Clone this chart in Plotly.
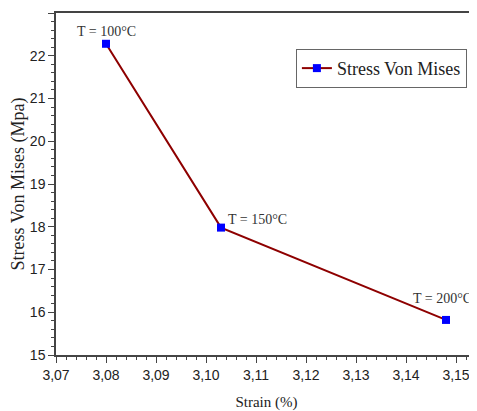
import plotly.graph_objects as go

strain = [3.080, 3.103, 3.148]
stress = [22.28, 17.98, 15.82]
labels = ["T = 100°C", "T = 150°C", "T = 200°C"]
series_name = "Stress Von Mises"

fig = go.Figure()
fig.add_trace(go.Scatter(
    x=strain, y=stress, mode="lines+markers", name=series_name,
    line=dict(color="#8E0000", width=2),
    marker=dict(symbol="square", size=8, color="#0000FF", line=dict(width=0)),
))

shifts = [(0, 12, "center"), (5, 8, "left"), (28, 21, "right")]
for xv, yv, t, (xs, ys, xa) in zip(strain, stress, labels, shifts):
    fig.add_annotation(x=xv, y=yv, text=t, showarrow=False, xanchor=xa,
                       yanchor="middle", xshift=xs, yshift=ys,
                       font=dict(family="Liberation Serif", size=14, color="#333333"))

axis_common = dict(showline=True, linecolor="#444444", linewidth=1.5,
                   ticks="outside", ticklen=6, tickwidth=1.2, tickcolor="#444444",
                   showgrid=False, zeroline=False, automargin=False,
                   tickfont=dict(family="Liberation Sans", size=14, color="#222222"),
                   minor=dict(ticks="outside", ticklen=3, tickwidth=1, tickcolor="#444444"))

fig.update_xaxes(range=[3.07, 3.1542], dtick=0.01, tickformat=".2f",
                 mirror=True,
                 title=dict(text="Strain (%)", standoff=16,
                            font=dict(family="Liberation Serif", size=15, color="#222222")),
                 **axis_common)
fig.update_yaxes(range=[15, 23], dtick=1,
                 title=dict(text="Stress Von Mises (Mpa)", standoff=8,
                            font=dict(family="Liberation Serif", size=18, color="#222222")),
                 **axis_common)

fig.update_layout(
    width=469, height=403,
    margin=dict(l=48, r=0, t=5, b=56),
    plot_bgcolor="white", paper_bgcolor="white",
    separators=",.",
    legend=dict(x=0.976, y=0.895, xanchor="right", yanchor="top",
                bordercolor="#666666", borderwidth=1, bgcolor="white",
                font=dict(family="Liberation Serif", size=18, color="#222222"),
                itemwidth=30, tracegroupgap=0),
    showlegend=True,
)

fig.write_html("out.html")
